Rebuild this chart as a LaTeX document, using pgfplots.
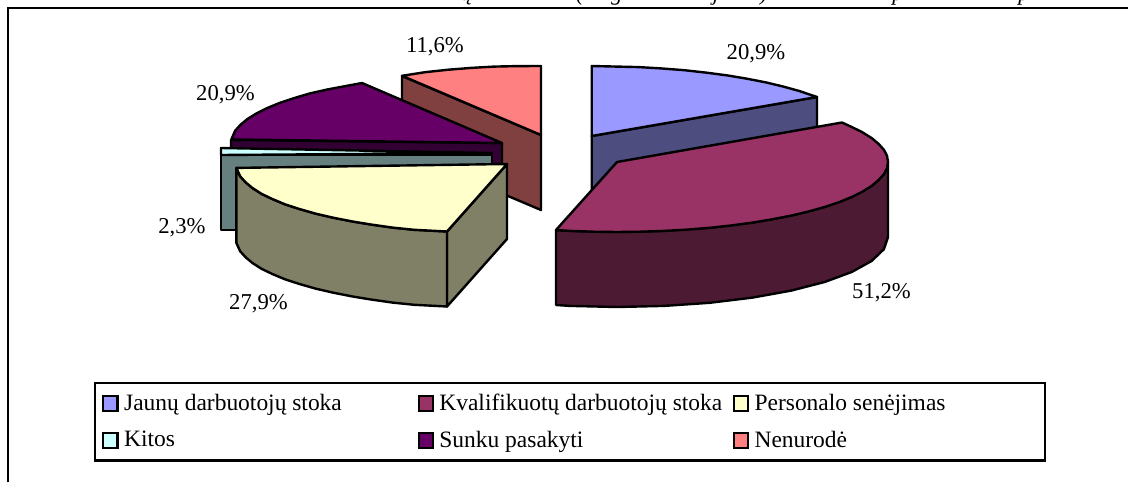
\documentclass[border=0pt]{standalone}
\usepackage{fontspec}
\setmainfont{Liberation Serif}
\usepackage{pgfplots}
\pgfplotsset{compat=1.18}
\definecolor{cBlue}{HTML}{9999FF}\definecolor{cBlueD}{HTML}{4D4D80}
\definecolor{cMar}{HTML}{993366}\definecolor{cMarD}{HTML}{4D1A33}
\definecolor{cCre}{HTML}{FFFFCC}\definecolor{cCreD}{HTML}{808066}
\definecolor{cKit}{HTML}{CCFFFF}\definecolor{cKitD}{HTML}{668080}
\definecolor{cPur}{HTML}{660066}\definecolor{cPurD}{HTML}{330033}
\definecolor{cSal}{HTML}{FF8080}\definecolor{cSalD}{HTML}{804040}
\pgfplotsset{
  slice/.style={draw=black,line width=1.8pt,line join=round,fill=#1,forget plot},
  swatch/.style={legend image code/.code={\draw[black,line width=1.6pt,fill=#1] (0pt,-5.6pt) rectangle (10.6pt,5.6pt);}},
}
\newcommand{\lab}[3]{\node[font=\fontsize{17}{20}\selectfont,inner sep=0pt] at (axis cs:#1,#2) {#3};}
\newcommand{\ent}[2]{\makebox[#1][l]{\hspace*{2.2pt}#2}}
\begin{document}
\begin{tikzpicture}[x=1pt,y=1pt]
\path[use as bounding box] (0,0) rectangle (846,361.5);
\begin{axis}[at={(0,0)},anchor=south west,scale only axis,width=846pt,height=361.5pt,
  xmin=0,xmax=1128,ymin=0,ymax=482,y dir=reverse,hide axis,clip=false,
  legend columns=3,
  legend style={at={(axis cs:95,383)},anchor=north west,draw=black,line width=1.8pt,
    font=\fontsize{17.6}{21}\selectfont,inner xsep=5.5pt,inner ysep=6.4pt,
    row sep=9.75pt,column sep=0pt,
    /tikz/every even column/.style={column sep=0pt},
    cells={anchor=west,line width=0pt}},
]
% legend
\addlegendimage{swatch=cBlue}\addlegendentry{\ent{220.2pt}{Jaunų darbuotojų stoka}}
\addlegendimage{swatch=cMar}\addlegendentry{\ent{220.2pt}{Kvalifikuotų darbuotojų stoka}}
\addlegendimage{swatch=cCre}\addlegendentry{\ent{212.5pt}{Personalo senėjimas}}
\addlegendimage{swatch=cKit}\addlegendentry{\ent{220.2pt}{Kitos}}
\addlegendimage{swatch=cPur}\addlegendentry{\ent{220.2pt}{Sunku pasakyti}}
\addlegendimage{swatch=cSal}\addlegendentry{\ent{212.5pt}{Nenurodė}}
% blue slice
\addplot[slice=cBlueD] coordinates {(591.7,136)(817,97)(817,172)(591.7,211)} --cycle;
\addplot[slice=cBlue] coordinates {(591.7,66)(638.8,67.1)(661,68.4)(684.4,70.2)(706,72.6)(727.2,75.4)(747,78.7)(765.9,82.4)(783,86.5)(799.3,91)(817,97)(591.7,136)} --cycle;
% salmon slice
\addplot[slice=cSalD] coordinates {(402,76)(541,135)(541,210)(402,151)} --cycle;
\addplot[slice=cSal] coordinates {(541,66)(517,66.1)(494,66.6)(471,67.9)(448.3,69.7)(425,72.2)(402,75.8)(541,135)} --cycle;
% purple slice
\addplot[slice=cPurD] coordinates {(231,140)(502,143)(502,218)(231,215)} --cycle;
\addplot[slice=cPur] coordinates {(362,83)(327.8,89.4)(310,93.4)(294.4,98)(280,102.8)(267.3,108)(256.5,113.4)(247.3,119.1)(240.5,124.8)(235.1,130.8)(231.4,139.4)(502,143)} --cycle;
% kitos slice
\addplot[slice=cKitD] coordinates {(221,155)(492,155)(492,230)(221,230)} --cycle;
\addplot[slice=cKit] coordinates {(221,148)(492,153)(221,155)} --cycle;
% cream slice
\addplot[slice=cCreD] coordinates {(447,231.5)(507,164)(507,239)(447,306.5)} --cycle;
\addplot[slice=cCreD] coordinates {(447,231.5)(414.3,229.8)(392.5,227.6)(371.5,224.6)(352,221.4)(332.8,217.6)(315.5,213.6)(299.4,209)(285,204.3)(272.3,199)(261.5,193.8)(252.3,187.9)(245.5,182.2)(240.1,176.2)(236.4,167.9)(236.4,242.9)(240.1,251.2)(245.5,257.2)(252.3,262.9)(261.5,268.8)(272.3,274)(285,279.3)(299.4,284)(315.5,288.6)(332.8,292.6)(352,296.4)(371.5,299.6)(392.5,302.6)(414.3,304.8)(447,306.5)} --cycle;
\addplot[slice=cCre] coordinates {(447,231.5)(414.3,229.8)(392.5,227.6)(371.5,224.6)(352,221.4)(332.8,217.6)(315.5,213.6)(299.4,209)(285,204.3)(272.3,199)(261.5,193.8)(252.3,187.9)(245.5,182.2)(240.1,176.2)(236.4,167.9)(507,164)} --cycle;
% maroon slice
\addplot[slice=cMarD] coordinates {(888,162)(883.9,174.2)(871.7,185.9)(851.7,197)(824.6,207)(791.2,215.6)(752.5,222.6)(709.7,227.8)(664.1,230.9)(617,232)(569.9,230.9)(556,230)(556,305)(569.9,305.9)(617,307)(664.1,305.9)(709.7,302.8)(752.5,297.6)(791.2,290.6)(824.6,282)(851.7,272)(871.7,260.9)(883.9,249.2)(888,237)} --cycle;
\addplot[slice=cMar] coordinates {(617,162)(842,122.5)(851.7,127)(862,132)(871.7,138.1)(878.5,143.8)(883.9,149.8)(887,155.8)(888,162)(887,168.2)(883.9,174.2)(878.5,180.1)(871.7,185.9)(862.5,191.6)(851.7,197)(839,202.2)(824.6,207)(808.5,211.5)(791.2,215.6)(772,219.3)(752.5,222.6)(731.5,225.4)(709.7,227.8)(687,229.6)(664.1,230.9)(640.5,231.7)(617,232)(593.5,231.7)(569.9,230.9)(556,230)} --cycle;
% frame
\addplot[black,line width=1.8pt,line join=miter,forget plot] coordinates {(8,482)(8,8)(1128,8)};
% labels
\lab{756}{54}{20,9\%}
\lab{881.5}{293}{51,2\%}
\lab{258.5}{304}{27,9\%}
\lab{182}{228}{2,3\%}
\lab{225.5}{95}{20,9\%}
\lab{435}{47}{11,6\%}
\end{axis}
% clipped foot of the title line above the frame
\begin{scope}
\clip (0,355.5) rectangle (846,361.5);
\foreach \x/\t in {350/ų,435/(,462.5/g,537/j,573/),673.5/p,768/p}
  \node[font=\fontsize{17}{20}\itshape,anchor=base,inner sep=0pt] at (\x,361) {\t};
\end{scope}
\end{tikzpicture}
\end{document}
